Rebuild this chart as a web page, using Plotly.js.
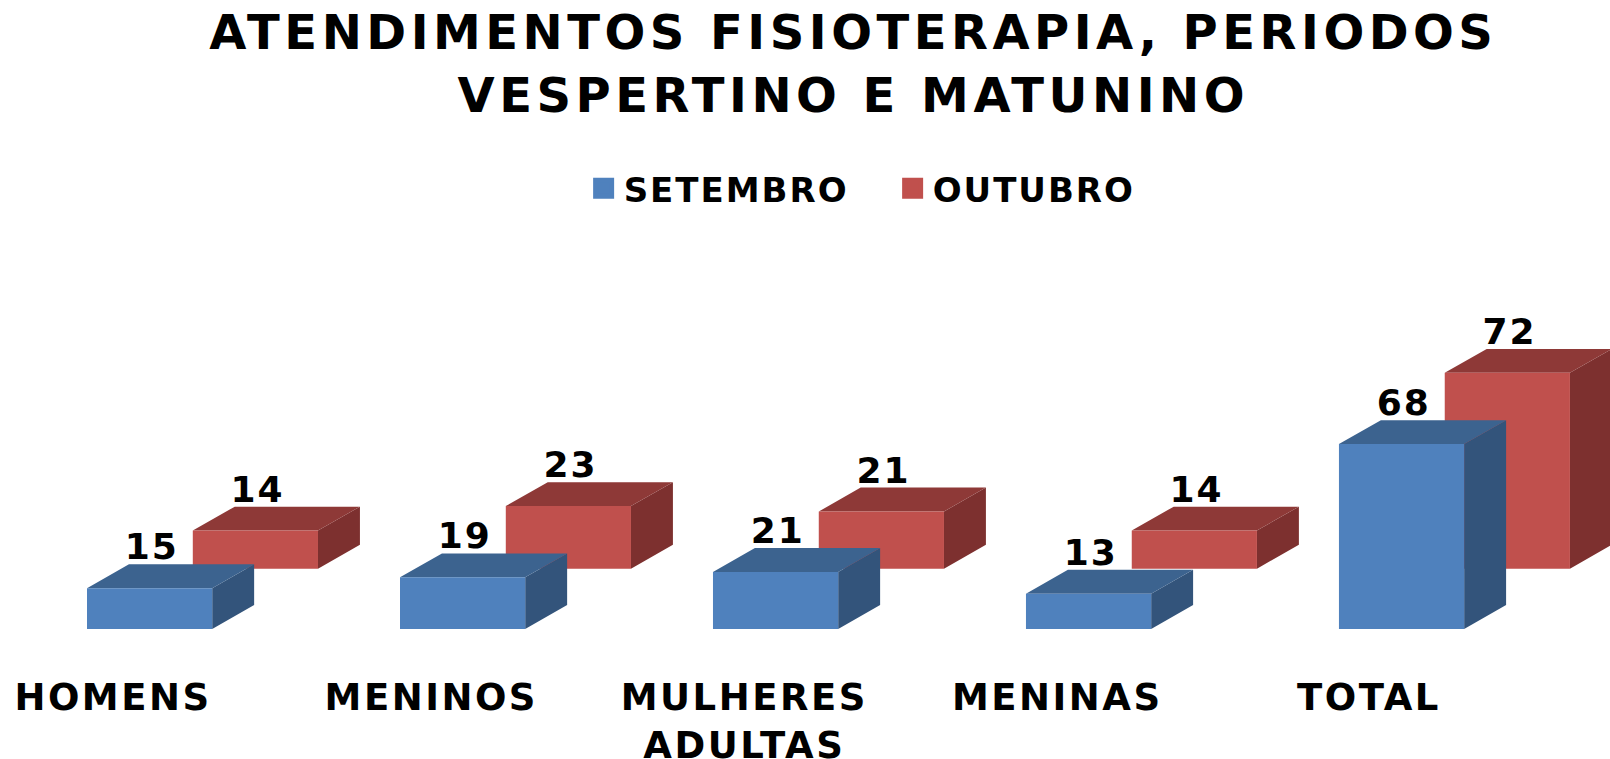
<!DOCTYPE html>
<html>
<head>
<meta charset="utf-8">
<script src="https://cdn.plot.ly/plotly-3.0.1.min.js"></script>
<style>html,body{margin:0;padding:0;background:#fff;overflow:hidden}</style>
</head>
<body>
<div id="chart" style="width:1610px;height:759px"></div>
<script>
const categories = ["HOMENS", "MENINOS", "MULHERES<br>ADULTAS", "MENINAS", "TOTAL"];
const setembro = [15, 19, 21, 13, 68];
const outubro = [14, 23, 21, 14, 72];
const tickPositions = [0, 1.017, 2.017, 3.017, 4.013];

const FONT = '"DejaVu Sans", sans-serif';
const barWidth = 0.40, depthX = 0.134, depthY = 8.8;
const blueStart = -0.083, redStart = 0.255, redBase = 22.2;

const positions = categories.map((_, i) => i);
const spaced = (s, px) => s.split('<br>').map(p => `<span style="letter-spacing:${px}px">${p}</span>`).join('<br>');

function faces(values, start, base) {
  const f = {fx: [], fy: [], tx: [], ty: [], sx: [], sy: []};
  values.forEach((v, i) => {
    const l = positions[i] + start, r = l + barWidth, b = base, t = base + v;
    f.fx.push(l, r, r, l, l, null); f.fy.push(b, b, t, t, b, null);
    f.tx.push(l, r, r + depthX, l + depthX, l, null); f.ty.push(t, t, t + depthY, t + depthY, t, null);
    f.sx.push(r, r + depthX, r + depthX, r, r, null); f.sy.push(b, b + depthY, t + depthY, t, b, null);
  });
  return f;
}
function poly(x, y, color, name) {
  return {type: 'scatter', mode: 'lines', x, y, fill: 'toself', fillcolor: color,
    line: {width: 0, color}, showlegend: false, hoverinfo: 'skip', name};
}
function series(values, start, base, colors, name) {
  const f = faces(values, start, base);
  return [
    poly(f.sx, f.sy, colors.side, name + ' lado'),
    poly(f.tx, f.ty, colors.top, name + ' topo'),
    poly(f.fx, f.fy, colors.front, name),
    {type: 'scatter', mode: 'text', x: positions.map(p => p + start + barWidth / 2 + 0.007),
      y: values.map(v => base + v + depthY - 1.5), text: values.map(v => spaced(String(v), 2)),
      textposition: 'top center', cliponaxis: false, showlegend: false,
      textfont: {family: FONT, size: 36, color: '#000', weight: 700}, hoverinfo: 'skip'}
  ];
}
function legendItem(name, color) {
  return {type: 'scatter', mode: 'markers', x: [null], y: [null], name: spaced(name, 2),
    marker: {symbol: 'square', size: 16, color, line: {width: 5, color}}};
}
const blue = {front: '#4F81BD', top: '#3C638F', side: '#33547B'};
const red = {front: '#C0504D', top: '#8E3937', side: '#7D302F'};

const data = [
  ...series(outubro, redStart, redBase, red, 'OUTUBRO'),
  ...series(setembro, blueStart, 0, blue, 'SETEMBRO'),
  legendItem('SETEMBRO', blue.front),
  legendItem('OUTUBRO', red.front)
];
const layout = {
  width: 1610, height: 759,
  margin: {l: 0, r: 0, t: 0, b: 130},
  paper_bgcolor: '#fff', plot_bgcolor: '#fff',
  title: {text: spaced('ATENDIMENTOS FISIOTERAPIA, PERIODOS<br>VESPERTINO E MATUNINO', 4.5),
    font: {family: FONT, size: 48, color: '#000', weight: 700},
    x: 0.53, xanchor: 'center', y: 0.935, yanchor: 'top'},
  showlegend: true,
  legend: {orientation: 'h', x: 0.3625, xanchor: 'left', y: 0.70, yanchor: 'middle',
    font: {family: FONT, size: 34, color: '#000', weight: 700},
    itemwidth: 30, entrywidth: 264, entrywidthmode: 'pixels', traceorder: 'normal', bgcolor: 'rgba(0,0,0,0)'},
  xaxis: {range: [-0.361, 4.783], tickmode: 'array', tickvals: tickPositions,
    ticktext: categories.map(c => spaced(c, 2.5)),
    showgrid: false, zeroline: false, showline: false, ticks: '', ticklabelstandoff: 43,
    tickfont: {family: FONT, size: 37, color: '#000', weight: 700}, fixedrange: true},
  yaxis: {range: [0, 231.3], visible: false, fixedrange: true},
  hovermode: false
};
Plotly.newPlot('chart', data, layout, {displayModeBar: false, responsive: false});
</script>
</body>
</html>
